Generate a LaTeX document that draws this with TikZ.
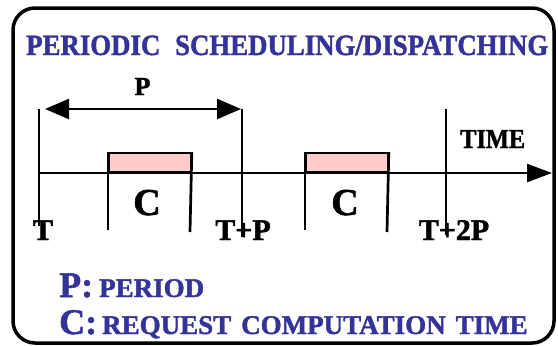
\documentclass[tikz,border=0pt]{standalone}
\usepackage{fontspec}
\setmainfont[BoldFeatures={FakeBold=1.5}]{Liberation Serif}
\usetikzlibrary{arrows.meta}
\definecolor{titleblue}{HTML}{333399}
\definecolor{boxpink}{HTML}{FFCCCC}
\tikzset{
  frame/.style={line width=3.5pt, rounded corners=22pt},
  marker/.style={line width=2.7pt},
  axis/.style={line width=2.5pt, -{Triangle[length=25pt,width=18pt]}},
  span/.style={line width=2.5pt, {Triangle[length=24pt,width=20pt]}-{Triangle[length=24pt,width=20pt]}},
  cbox/.style={draw, fill=boxpink, line width=1.8pt, minimum width=82pt, minimum height=19pt, inner sep=0pt, anchor=south west},
  tlabel/.style={inner sep=0pt, anchor=base, font=\fontsize{30}{30}\selectfont\bfseries},
  clabel/.style={inner sep=0pt, anchor=base, font=\fontsize{38}{38}\selectfont\bfseries},
  legend/.style={inner sep=0pt, anchor=base west, text=titleblue, font=\bfseries},
}
\newcommand{\lbig}[1]{{\fontsize{36}{36}\selectfont #1}}
\newcommand{\lsmall}[1]{{\fontsize{27}{27}\selectfont #1}}
\begin{document}
\begin{tikzpicture}[x=1pt,y=-1pt]
\useasboundingbox (0,0) rectangle (558,346);
\draw[frame] (13,8) rectangle (554,343);

% title
\node[inner sep=0pt, anchor=base west, text=titleblue] (title) at (26,55)
  {\resizebox{522pt}{19.5pt}{\bfseries PERIODIC\hspace{0.3em} SCHEDULING/DISPATCHING}};

% computation boxes
\node[cbox] (c1) at (108,173) {};
\node[cbox] (c2) at (305,173) {};
\coordinate (c1l) at (108,230);
\coordinate (c1r) at (190,232);
\coordinate (c2l) at (305,230);
\coordinate (c2r) at (387,232);
\draw[marker] (c1.north west) -- (c1l);
\draw[marker] (c1.north east) -- (c1r);
\draw[marker] (c2.north west) -- (c2l);
\draw[marker] (c2.north east) -- (c2r);

% time axis
\coordinate (a0) at (39,173);
\coordinate (a1) at (552,173);
\draw[axis] (a0) -- (a1);

% period markers
\coordinate (t0top) at (39,109);
\coordinate (t0bot) at (39,226);
\coordinate (t1top) at (242,109);
\coordinate (t1bot) at (242,237);
\coordinate (t2top) at (446,109);
\coordinate (t2bot) at (446,235);
\draw[marker] (t0top) -- (t0bot);
\draw[marker] (t1top) -- (t1bot);
\draw[marker] (t2top) -- (t2bot);

% period arrow
\coordinate (pa) at (45,109);
\coordinate (pb) at (241,109);
\draw[span] (pa) -- (pb);
\node[inner sep=0pt, anchor=base, font=\fontsize{26}{26}\selectfont\bfseries] (plabel) at (142.5,95) {P};

% labels
\node[tlabel] (lt0) at (43,240) {T};
\node[tlabel] (lt1) at (243,240) {T+P};
\node[tlabel] (lt2) at (454,240) {T+2P};
\node[clabel] (lc1) at (147,215) {C};
\node[clabel] (lc2) at (345,215) {C};
\node[inner sep=0pt, anchor=base west] (time) at (460,148)
  {\resizebox{65pt}{18pt}{\bfseries TIME}};

% legend
\node[legend] (leg1) at (59,297) {\lbig{P:}\hspace{6pt}\lsmall{PERIOD}};
\node[legend] (leg2) at (59,334) {\lbig{C:}\hspace{5pt}\lsmall{REQUEST\hspace{0.12em} COMPUTATION\hspace{0.12em} TIME}};
\end{tikzpicture}
\end{document}
